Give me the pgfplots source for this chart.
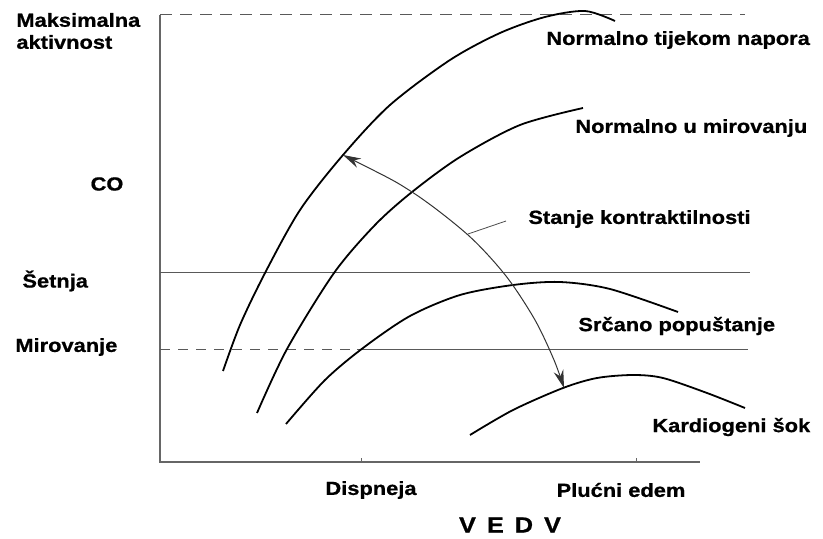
\documentclass[border=0pt]{standalone}
\usepackage{pgfplots}
\pgfplotsset{compat=1.18}
\usepackage{fontspec}
\setmainfont{Liberation Sans}[FakeStretch=1.15, BoldFeatures={FakeBold=0.8}]
\usetikzlibrary{arrows.meta}
\begin{document}
\begin{tikzpicture}
\begin{axis}[
  scale only axis, width=411.5pt, height=269.5pt,
  xmin=0, xmax=823, ymin=0, ymax=539, y dir=reverse,
  hide axis, clip=false,
]
\path (axis cs:0,0) rectangle (axis cs:823,539);
% axes
\addplot[gray!80!black, line width=0.6pt] coordinates {(160,15) (160,462) (700,462)};
\addplot[gray!80!black, line width=0.4pt] coordinates {(361,462) (361,458)};
\addplot[gray!80!black, line width=0.4pt] coordinates {(636,462) (636,458)};
% reference lines
\addplot[gray!70!black, line width=0.5pt, dash pattern=on 6pt off 4pt] coordinates {(160,15) (745,15)};
\addplot[gray!70!black, line width=0.5pt] coordinates {(160,273) (750,273)};
\addplot[gray!70!black, line width=0.5pt, dash pattern=on 5pt off 4pt] coordinates {(160,349) (357,349)};
\addplot[gray!70!black, line width=0.5pt] coordinates {(357,349) (748,349)};
% curves
\addplot[black, line width=0.9pt, smooth] coordinates {
 (223,371) (240,325) (265,273) (300,210) (343,155) (390,105) (450,60) (500,33) (545,17) (585,11) (615,21)};
\addplot[black, line width=0.9pt, smooth] coordinates {
 (257,413) (287,349) (334,273) (375,225) (412,192) (460,157) (520,125) (583,108)};
\addplot[black, line width=0.9pt, smooth] coordinates {
 (286,424) (325,380) (363,348) (410,316) (460,295) (513,285) (560,282) (610,289) (678,312)};
\addplot[black, line width=0.9pt, smooth] coordinates {
 (470,435) (513,410) (563,388) (597,378) (633,375) (663,378) (707,393) (745,408)};
% contractility arrow
\addplot[gray!40!black, line width=0.5pt, smooth, {Stealth[length=9pt,width=5pt]}-{Stealth[length=9pt,width=5pt]}] coordinates {
 (343,155) (412,192) (468,235) (506,276) (535,320) (554,360) (564,388)};
\addplot[gray!60!black, line width=0.4pt] coordinates {(468,234) (506,221)};
% labels
\begin{scope}[every node/.style={font=\fontsize{9.5}{10}\selectfont\bfseries, inner sep=0pt}]
\node[anchor=west] at (axis cs:16,20) {Maksimalna};
\node[anchor=west] at (axis cs:16,42) {aktivnost};
\node at (axis cs:107,184) {CO};
\node[anchor=west] at (axis cs:22,281) {Šetnja};
\node[anchor=west] at (axis cs:15,347) {Mirovanje};
\node[anchor=west] at (axis cs:546,40) {Normalno tijekom napora};
\node[anchor=west] at (axis cs:575,128) {Normalno u mirovanju};
\node[anchor=west] at (axis cs:528,219) {Stanje kontraktilnosti};
\node[anchor=west] at (axis cs:578,326) {Srčano popuštanje};
\node[anchor=west] at (axis cs:652,427) {Kardiogeni šok};
\node at (axis cs:371,490) {Dispneja};
\node at (axis cs:621,490) {Plućni edem};
\node[font=\fontsize{11}{12}\selectfont\bfseries] at (axis cs:510,525) {V\hspace{0.5em}E\hspace{0.5em}D\hspace{0.5em}V};
\end{scope}
\end{axis}
\end{tikzpicture}
\end{document}
